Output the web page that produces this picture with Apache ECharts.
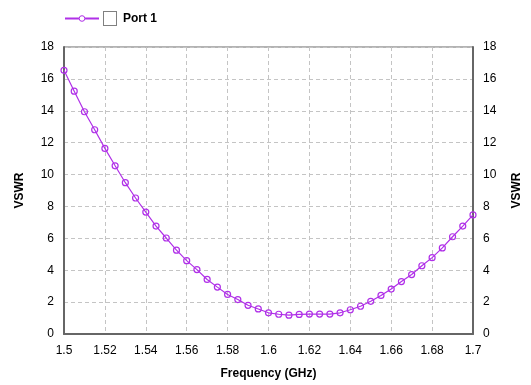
<!DOCTYPE html>
<html>
<head>
<meta charset="utf-8">
<script src="https://cdn.jsdelivr.net/npm/echarts@6/dist/echarts.min.js"></script>
<style>
  html, body { margin: 0; padding: 0; background: #fff; }
  #main { width: 531px; height: 385px; }
</style>
</head>
<body>
<div id="main"></div>
<script>
// frequency sweep, GHz (1.5 .. 1.7 step 0.005)
const freqs = [
  1.5, 1.505, 1.51, 1.515, 1.52, 1.525, 1.53, 1.535, 1.54, 1.545,
  1.55, 1.555, 1.56, 1.565, 1.57, 1.575, 1.58, 1.585, 1.59, 1.595,
  1.6, 1.605, 1.61, 1.615, 1.62, 1.625, 1.63, 1.635, 1.64, 1.645,
  1.65, 1.655, 1.66, 1.665, 1.67, 1.675, 1.68, 1.685, 1.69, 1.695, 1.7
];
// VSWR
const vswr = [
  16.54, 15.23, 13.94, 12.81, 11.64, 10.55, 9.49, 8.53, 7.65, 6.77,
  6.02, 5.26, 4.6, 4.04, 3.42, 2.94, 2.48, 2.16, 1.8, 1.57,
  1.33, 1.24, 1.18, 1.23, 1.25, 1.25, 1.25, 1.33, 1.52, 1.74,
  2.05, 2.42, 2.82, 3.29, 3.73, 4.28, 4.79, 5.40, 6.10, 6.77, 7.47
];
const seriesName = 'Port 1';
const xLabel = 'Frequency (GHz)';
const yLabel = 'VSWR';

const lineColor = '#b030e8';
const font = 'Liberation Sans, Arial, sans-serif';

const chart = echarts.init(document.getElementById('main'), null, { renderer: 'canvas' });

const yAxisBase = {
  type: 'value',
  min: 0,
  max: 18,
  interval: 2,
  name: yLabel,
  nameLocation: 'middle',
  nameGap: 38,
  nameTextStyle: { fontFamily: font, fontSize: 12, fontWeight: 'bold', color: '#000' },
  axisLine: { show: true, lineStyle: { color: '#666', width: 2 } },
  axisTick: { show: false },
  axisLabel: { fontFamily: font, fontSize: 12, color: '#000', margin: 10 },
};

const option = {
  animation: false,
  backgroundColor: '#fff',
  grid: {
    left: 64, right: 53, top: 47, bottom: 46,
    show: true, borderColor: '#666', borderWidth: 1
  },
  legend: {
    left: 59, top: 6,
    itemWidth: 34, itemHeight: 7, itemGap: 10,
    formatter: function (name) { return '{box|}{n|' + name + '}'; },
    textStyle: {
      fontFamily: font,
      rich: {
        box: {
          width: 12, height: 13,
          backgroundColor: '#fff',
          borderColor: '#808080', borderWidth: 1
        },
        n: { fontFamily: font, fontSize: 12, fontWeight: 'bold', color: '#000', padding: [0, 0, 0, 7] }
      }
    },
    data: [{
      name: seriesName,
      itemStyle: { color: '#fff', borderColor: lineColor, borderWidth: 1 }
    }]
  },
  xAxis: {
    type: 'value',
    min: 1.5,
    max: 1.7,
    interval: 0.02,
    name: xLabel,
    nameLocation: 'middle',
    nameGap: 34,
    nameTextStyle: { fontFamily: font, fontSize: 12, fontWeight: 'bold', color: '#000' },
    axisLine: { show: true, lineStyle: { color: '#666', width: 2 } },
    axisTick: { show: false },
    axisLabel: {
      fontFamily: font, fontSize: 12, color: '#000', margin: 11,
      formatter: function (v) { return String(parseFloat(v.toFixed(2))); }
    },
    splitLine: { show: true, lineStyle: { color: '#c4c4c4', type: [4, 3], width: 1 } }
  },
  yAxis: [
    Object.assign({}, yAxisBase, {
      position: 'left',
      splitLine: { show: true, lineStyle: { color: '#c4c4c4', type: [4, 3], width: 1 } }
    }),
    Object.assign({}, yAxisBase, {
      position: 'right',
      splitLine: { show: false }
    })
  ],
  series: [{
    name: seriesName,
    type: 'line',
    yAxisIndex: 0,
    data: freqs.map((f, i) => [f, vswr[i]]),
    symbol: 'circle',
    symbolSize: 6,
    lineStyle: { color: lineColor, width: 1.2 },
    itemStyle: { color: 'rgba(255,255,255,0)', borderColor: lineColor, borderWidth: 1.2 },
    emphasis: { disabled: true }
  }]
};

chart.setOption(option);
</script>
</body>
</html>
